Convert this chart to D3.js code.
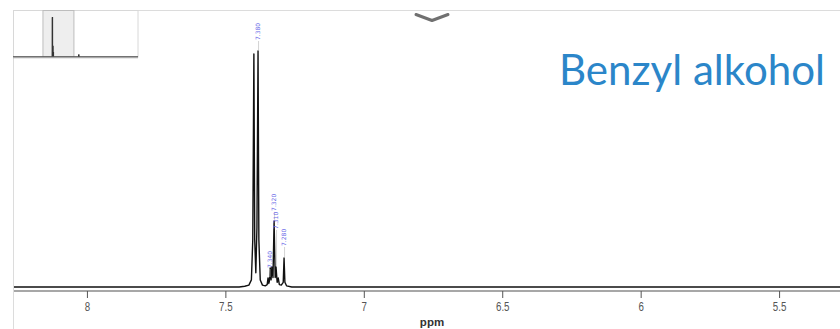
<!DOCTYPE html>
<html><head><meta charset="utf-8">
<script src="https://cdn.jsdelivr.net/npm/d3@7"></script>
<style>
html,body{margin:0;padding:0;background:#fff;}
svg{display:block;}
</style></head>
<body>
<svg id="c" width="840" height="329"></svg>
<script>
// ---- data ----
const title = "Benzyl alkohol";
const axisLabel = "ppm";
const tickValues = [8, 7.5, 7, 6.5, 6, 5.5];
const viewRange = [8.314, 5.28];          // visible ppm window
const fullRange = [11.25, -1.0];          // whole spectrum (overview)
// spectrum trace: ppm and relative intensity
const specPpm = [8.32, 7.45, 7.43, 7.415, 7.406, 7.401, 7.397, 7.394, 7.390, 7.386, 7.382, 7.379, 7.374, 7.366,
                 7.356, 7.349, 7.346, 7.343, 7.341, 7.338, 7.335, 7.332, 7.328, 7.324, 7.320, 7.317, 7.313,
                 7.309, 7.305, 7.298, 7.291, 7.288, 7.285, 7.279, 7.26, 5.28];
const specInt = [0, 0, 0.3, 0.8, 3, 20, 98.7, 20, 6, 25, 100, 20, 3, 0.8,
                 0.5, 1, 3.8, 1.5, 2.5, 8.1, 3, 8.5, 4, 28, 4, 8.5, 2,
                 3.8, 1, 0.8, 2, 12.3, 2, 0.5, 0, 0];
// extra peak outside the window (seen only in the overview)
const otherPpm = [4.83, 4.80, 4.77];
const otherInt = [0, 7, 0];
// peak labels
const peakLabels = ["7.380", "7.340", "7.320", "7.310", "7.280"];
const peakLabelPpm = [7.382, 7.341, 7.324, 7.317, 7.288];
const peakLabelInt = [100, 3.8, 28, 8.5, 12.3];

// ---- drawing ----
const svg = d3.select("#c");
const W = 840, H = 329;
const x = d3.scaleLinear().domain(viewRange).range([0, 840]);
const y = d3.scaleLinear().domain([0, 100]).range([287, 51]);

// frame lines
svg.append("line").attr("x1", 13).attr("x2", W).attr("y1", 10.5).attr("y2", 10.5)
  .attr("stroke", "#dcdcdc").attr("stroke-width", 1);
svg.append("line").attr("x1", 13.5).attr("x2", 13.5).attr("y1", 10).attr("y2", H)
  .attr("stroke", "#dcdcdc").attr("stroke-width", 1);

// spectrum
const plot = svg.append("g");
plot.append("clipPath").attr("id", "clip").append("rect")
  .attr("x", 14).attr("y", 11).attr("width", W - 14).attr("height", 290);
const specData = specPpm.map((p, i) => [p, specInt[i]]);
plot.append("path").datum(specData)
  .attr("clip-path", "url(#clip)")
  .attr("fill", "none").attr("stroke", "#111").attr("stroke-width", 1.4)
  .attr("stroke-linejoin", "round")
  .attr("d", d3.line().x(d => x(d[0])).y(d => y(d[1])));

// peak labels with leaders
const labelOffsets = [10, 9, 9, 37, 11];
peakLabels.forEach((t, i) => {
  const px = x(peakLabelPpm[i]);
  const top = y(peakLabelInt[i]);
  const yb = top - labelOffsets[i];
  svg.append("line").attr("x1", px + 0.5).attr("x2", px + 0.5)
    .attr("y1", yb).attr("y2", top - 1)
    .attr("stroke", "#c8c8c8").attr("stroke-width", 0.8);
  svg.append("text")
    .attr("transform", `translate(${px + 2.4},${yb - 1}) rotate(-90)`)
    .style("font-family", "'DejaVu Sans', 'Liberation Sans', sans-serif")
    .attr("font-size", 6).attr("fill", "#6a6ae8")
    .attr("text-anchor", "start")
    .text(t);
});

// x axis
const axisG = svg.append("g").attr("transform", "translate(0,291)")
  .call(d3.axisBottom(x).tickValues(tickValues).tickFormat(d3.format("")).tickSize(7).tickPadding(3));
axisG.select(".domain").attr("stroke", "#8a8a8a").attr("stroke-width", 1.6)
  .attr("d", `M14,0H${W}`);
axisG.selectAll(".tick line").attr("stroke", "#555").attr("stroke-width", 1);
axisG.selectAll(".tick text")
  .style("font-family", "'Liberation Sans', Arial, sans-serif")
  .attr("font-size", 13.5).attr("fill", "#555")
  .attr("transform", "scale(0.72,1)");

svg.append("text").attr("x", 432).attr("y", 326).attr("text-anchor", "middle")
  .style("font-family", "'Liberation Sans', Arial, sans-serif").attr("font-weight", "bold")
  .attr("font-size", 11.5).attr("fill", "#333").text(axisLabel);

// overview inset
const mx = d3.scaleLinear().domain(fullRange).range([13, 138]);
const my = d3.scaleLinear().domain([0, 100]).range([57, 17]);
const inset = svg.append("g");
inset.append("rect").attr("x", 13.5).attr("y", 10.5).attr("width", 124.5).attr("height", 46.5)
  .attr("fill", "#fff").attr("stroke", "#d8d8d8");
inset.append("rect").attr("x", mx(viewRange[0])).attr("y", 10.5)
  .attr("width", mx(viewRange[1]) - mx(viewRange[0])).attr("height", 46.5)
  .attr("fill", "#eeeeee").attr("stroke", "#bdbdbd");
const overview = [[fullRange[0], 0]].concat(specData.filter(d => d[0] < 7.45 && d[0] > 7.26))
  .concat(otherPpm.map((p, i) => [p, otherInt[i]])).concat([[fullRange[1], 0]]);
inset.append("path").datum(overview)
  .attr("fill", "none").attr("stroke", "#333").attr("stroke-width", 1.3)
  .attr("d", d3.line().x(d => mx(d[0])).y(d => my(d[1])));
inset.append("line").attr("x1", 13).attr("x2", 138).attr("y1", 57.5).attr("y2", 57.5)
  .attr("stroke", "#a8a8a8").attr("stroke-width", 1.5);

// chevron
svg.append("path").attr("d", "M416,14.5 L432,20.5 L448,14.5")
  .attr("fill", "none").attr("stroke", "#707070").attr("stroke-width", 3)
  .attr("stroke-linecap", "round").attr("stroke-linejoin", "round");

// title
svg.append("text").attr("x", 559).attr("y", 85)
  .style("font-family", "Lato, 'Open Sans', sans-serif").attr("font-size", 43)
  .attr("fill", "#2b86c9").attr("textLength", 266).attr("lengthAdjust", "spacingAndGlyphs")
  .text(title);
</script>
</body></html>
